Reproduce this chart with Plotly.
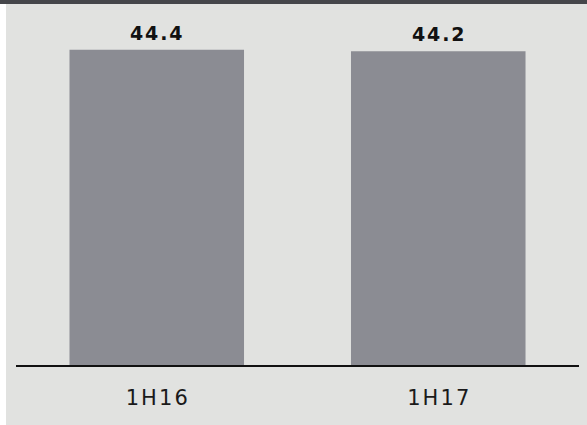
import plotly.graph_objects as go

categories = ["1H16", "1H17"]
values = [44.4, 44.2]
value_labels = ["44.4", "44.2"]

BG = "#e1e2e0"
BAR = "#8b8c93"
HAIR = "\u200a"


def spaced(s):
    return HAIR.join(list(s))


fig = go.Figure()
fig.add_trace(go.Bar(
    x=categories, y=values,
    marker=dict(color=BAR, line=dict(width=0)),
    hoverinfo="skip",
))

for c, v, t in zip(categories, values, value_labels):
    fig.add_annotation(
        x=c, y=v, xref="x", yref="y",
        text=f"<b>{spaced(t)}</b>", showarrow=False,
        yanchor="bottom", yshift=4,
        font=dict(family="DejaVu Sans", size=19, color="#111111"),
    )

fig.update_layout(
    width=587, height=425,
    margin=dict(l=16, r=8, t=10, b=60),
    paper_bgcolor=BG, plot_bgcolor=BG,
    bargap=0.38,
    showlegend=False,
    xaxis=dict(
        showgrid=False, showline=True, linecolor="#111111", linewidth=2,
        ticks="outside", ticklen=13, tickcolor=BG,
        tickvals=categories, ticktext=[spaced(c) for c in categories],
        tickfont=dict(family="DejaVu Sans", size=21, color="#1a1a1a"),
    ),
    yaxis=dict(range=[0, 50], visible=False, showgrid=False, zeroline=False),
    shapes=[
        dict(type="rect", xref="paper", yref="paper",
             x0=-0.03, x1=-0.0178, y0=-0.2, y1=1.05,
             fillcolor="#ffffff", line=dict(width=0), layer="above"),
        dict(type="rect", xref="paper", yref="paper",
             x0=-0.03, x1=1.03, y0=1.0169, y1=1.05,
             fillcolor="#45464a", line=dict(width=0), layer="above"),
    ],
)

fig.write_html("out.html")
